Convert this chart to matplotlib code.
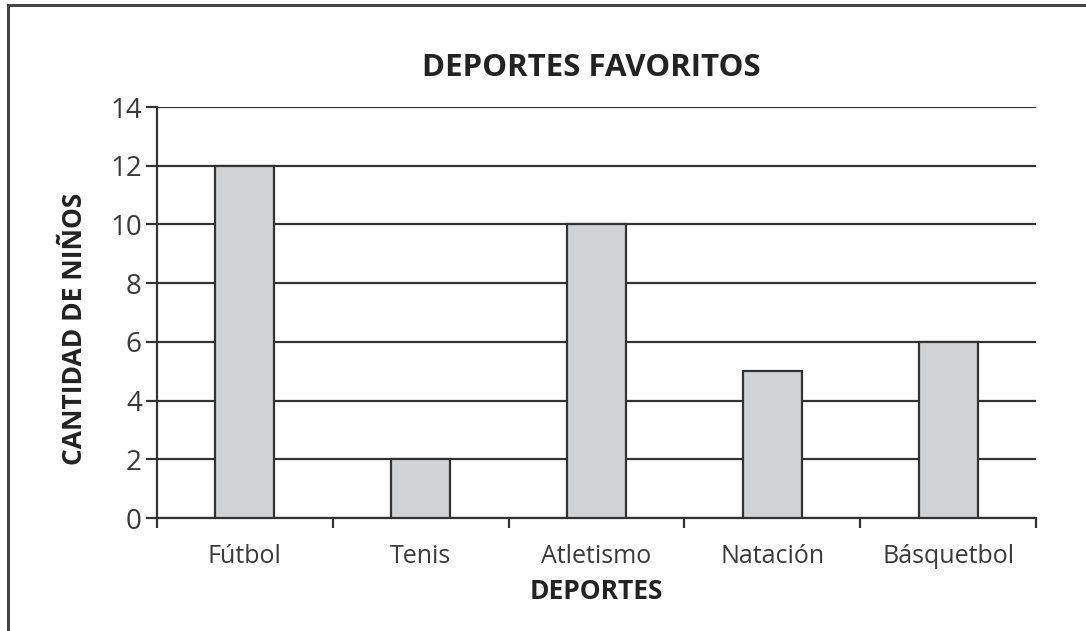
import numpy as np
import matplotlib.pyplot as plt
from matplotlib.patches import Rectangle

# Deportes favoritos de los niños
deportes = ['Fútbol', 'Tenis', 'Atletismo', 'Natación', 'Básquetbol']
cantidad = [12, 2, 10, 5, 6]
y_ticks = [0, 2, 4, 6, 8, 10, 12, 14]

plt.rcParams['font.family'] = ['Open Sans', 'DejaVu Sans']

fig = plt.figure(figsize=(10.86, 6.31), dpi=100)
ax = fig.add_axes([0.1446, 0.179, 0.8094, 0.6514])

line_col = '#333333'
x = np.arange(len(deportes))

# grid first so the bars cover it
ax.set_axisbelow(True)
ax.yaxis.grid(True, color=line_col, linewidth=1.6)
ax.bar(x, cantidad, width=0.335, color='#d1d2d4', edgecolor=line_col, linewidth=1.6, zorder=3)

ax.set_xlim(-0.5, len(deportes) - 0.5)
ax.set_ylim(0, 14)
ax.set_yticks(y_ticks)
ax.set_xticks(x)
ax.set_xticklabels(deportes)
ax.set_xticks(np.arange(-0.5, len(deportes)), minor=True)

ax.tick_params(axis='x', which='major', length=0, pad=19, labelsize=18, labelcolor='#3a3a3a')
ax.tick_params(axis='x', which='minor', length=7, width=1.6, color=line_col, direction='out')
ax.tick_params(axis='y', length=8, width=1.6, color=line_col, labelsize=20, labelcolor='#3a3a3a', pad=3)

for side in ['top', 'right']:
    ax.spines[side].set_visible(False)
for side in ['left', 'bottom']:
    ax.spines[side].set_color(line_col)
    ax.spines[side].set_linewidth(1.6)

ax.set_title('DEPORTES FAVORITOS', fontsize=22.5, fontweight='bold', color='#222222', pad=22, x=0.494)
ax.set_xlabel('DEPORTES', fontsize=19, fontweight='bold', color='#222222')
ax.set_ylabel('CANTIDAD DE NIÑOS', fontsize=19, fontweight='bold', color='#222222')
ax.xaxis.set_label_coords(0.5, -0.145)
ax.yaxis.set_label_coords(-0.079, 0.46)

# marco alrededor de la figura
fig.patches.append(Rectangle((0.0075, -0.1), 1.1, 1.092, transform=fig.transFigure,
                             fill=False, edgecolor='#444444', linewidth=2.2))

fig.savefig('out.png', dpi=100)
